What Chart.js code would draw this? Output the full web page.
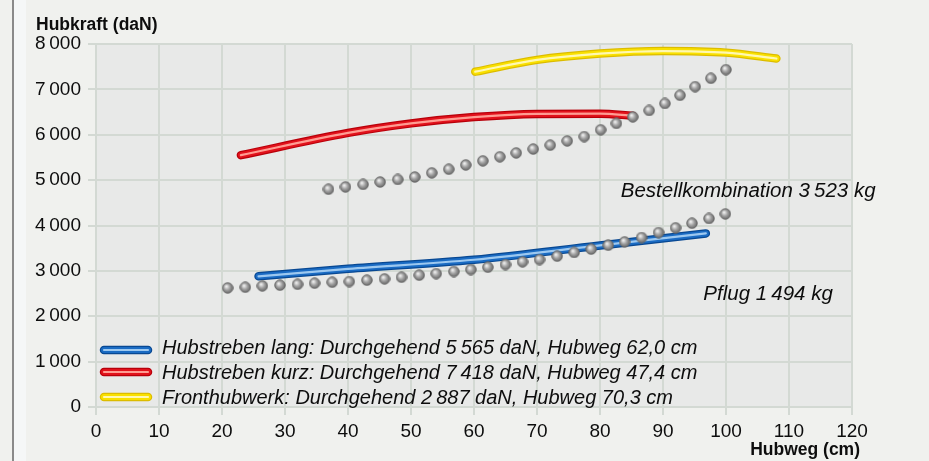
<!DOCTYPE html>
<html>
<head>
<meta charset="utf-8">
<script src="https://cdn.jsdelivr.net/npm/chart.js@4"></script>
<style>
    html, body { margin: 0; padding: 0; background: #f0f1ee; }
    #wrap { width: 929px; height: 461px; position: relative; }
</style>
</head>
<body>
<div id="wrap"><canvas id="hubChart"></canvas></div>
<script>
// ============================================================
//  Hubkraft / Hubweg chart
// ============================================================

// Pflug 1494 kg - gray dots
const pflugX = [20.9, 23.7, 26.4, 29.2, 32.0, 34.7, 37.5, 40.2, 43.0, 45.8, 48.5, 51.3, 54.0, 56.8, 59.5,
                62.2, 65.0, 67.7, 70.4, 73.2, 75.9, 78.6, 81.3, 83.9, 86.6, 89.3, 92.0, 94.6, 97.3, 99.9];
const pflugY = [2625, 2640, 2670, 2685, 2705, 2730, 2750, 2765, 2795, 2825, 2860, 2905, 2940, 2985, 3030,
                3080, 3140, 3200, 3250, 3325, 3405, 3480, 3565, 3640, 3735, 3845, 3950, 4050, 4155, 4255];

// Bestellkombination 3523 kg - gray dots
const bestellX = [36.9, 39.6, 42.4, 45.1, 47.9, 50.6, 53.3, 56.0, 58.7, 61.4, 64.1, 66.7, 69.4,
                  72.1, 74.8, 77.5, 80.1, 82.6, 85.2, 87.8, 90.3, 92.7, 95.1, 97.6, 100.0];
const bestellY = [4800, 4850, 4905, 4960, 5015, 5070, 5160, 5240, 5335, 5425, 5515, 5600, 5685,
                  5770, 5865, 5960, 6110, 6250, 6395, 6535, 6690, 6870, 7060, 7245, 7435];

// Hubstreben lang (blue)
const langX = [25.8, 40, 60, 80, 96.8];
const langY = [2880, 3045, 3245, 3560, 3825];

// Hubstreben kurz (red)
const kurzX = [23, 40, 50, 60, 70, 80, 85.2];
const kurzY = [5550, 6040, 6250, 6390, 6460, 6465, 6420];

// Fronthubwerk (yellow)
const frontX = [60.2, 70, 80, 90, 100, 108];
const frontY = [7390, 7650, 7790, 7845, 7810, 7680];

const legendLabels = [
    'Hubstreben lang: Durchgehend 5\u2009565 daN, Hubweg 62,0 cm',
    'Hubstreben kurz: Durchgehend 7\u2009418 daN, Hubweg 47,4 cm',
    'Fronthubwerk: Durchgehend 2\u2009887 daN, Hubweg 70,3 cm',
];
const noteLabels = ['Bestellkombination 3\u2009523 kg', 'Pflug 1\u2009494 kg'];
const yTitle = 'Hubkraft (daN)';
const xTitle = 'Hubweg (cm)';

// glossy tube colours: [edge, body, highlight]
const BLUE = ['#084892', '#1a6bc3', '#9cc8f0'];
const RED = ['#b8000a', '#e2121c', '#ff9c92'];
const YELLOW = ['#dcbc00', '#f9e000', '#fff8b0'];

const FONT = '"Liberation Sans", Arial, sans-serif';
const INK = '#0d0d0d';

function toPoints(xs, ys) {
    return xs.map((x, i) => ({ x: x, y: ys[i] }));
}

// small shaded sphere used as point style
function makeSphere() {
    const c = document.createElement('canvas');
    c.width = 12; c.height = 12;
    const g = c.getContext('2d');
    const grad = g.createRadialGradient(4.6, 4.4, 0.5, 6, 6, 6.2);
    grad.addColorStop(0, '#eeeeee');
    grad.addColorStop(0.45, '#a0a0a0');
    grad.addColorStop(1, '#585858');
    g.beginPath();
    g.arc(6, 6, 5.3, 0, Math.PI * 2);
    g.fillStyle = grad;
    g.fill();
    g.lineWidth = 0.8;
    g.strokeStyle = '#666666';
    g.stroke();
    return c;
}
const sphere = makeSphere();

function tube(xs, ys, cols) {
    const base = {
        data: toPoints(xs, ys),
        showLine: true,
        pointRadius: 0,
        tension: 0.4,
        cubicInterpolationMode: 'monotone',
        borderCapStyle: 'round',
        borderJoinStyle: 'round',
    };
    return [
        Object.assign({}, base, { borderColor: cols[0], borderWidth: 8.5, order: 4 }),
        Object.assign({}, base, { borderColor: cols[1], borderWidth: 6, order: 3 }),
        Object.assign({}, base, { borderColor: cols[2], borderWidth: 2.2, order: 2 }),
    ];
}

function dots(xs, ys) {
    return {
        data: toPoints(xs, ys),
        showLine: false,
        pointStyle: sphere,
        pointRadius: 5,
        order: 0,
    };
}

function drawTube(ctx, x1, x2, y, cols) {
    ctx.save();
    ctx.lineCap = 'round';
    [[cols[0], 8.5], [cols[1], 6], [cols[2], 2.2]].forEach(([c, w]) => {
        ctx.beginPath();
        ctx.moveTo(x1, y);
        ctx.lineTo(x2, y);
        ctx.strokeStyle = c;
        ctx.lineWidth = w;
        ctx.stroke();
    });
    ctx.restore();
}

const backdrop = {
    id: 'backdrop',
    beforeDraw(chart) {
        const { ctx, chartArea: a } = chart;
        ctx.save();
        ctx.fillStyle = '#f0f1ee';
        ctx.fillRect(0, 0, chart.width, chart.height);
        ctx.fillStyle = '#f5f7f7';
        ctx.fillRect(14, 0, 12, chart.height);
        ctx.fillStyle = '#8a8a8a';
        ctx.fillRect(12, 0, 2, chart.height);
        ctx.fillStyle = '#e8e9e8';
        ctx.fillRect(a.left, a.top, a.right - a.left, a.bottom - a.top);
        ctx.restore();
    }
};

const texts = {
    id: 'texts',
    afterDraw(chart) {
        const { ctx, chartArea: a, scales } = chart;
        ctx.save();
        ctx.fillStyle = INK;
        ctx.textBaseline = 'alphabetic';

        // axis titles
        ctx.font = 'bold 17.5px ' + FONT;
        ctx.textAlign = 'left';
        ctx.fillText(yTitle, 36, 30);
        ctx.textAlign = 'right';
        ctx.fillText(xTitle, 860, 455);

        // legend inside plot
        const cols = [BLUE, RED, YELLOW];
        const baselines = [354, 379, 404];
        const marks = [350, 372, 397];
        ctx.font = 'italic 20px ' + FONT;
        ctx.textAlign = 'left';
        legendLabels.forEach((lbl, i) => {
            drawTube(ctx, a.left + 8, a.left + 52, marks[i], cols[i]);
            ctx.fillStyle = INK;
            ctx.fillText(lbl, 162, baselines[i]);
        });

        // series notes
        ctx.font = 'italic 20.5px ' + FONT;
        ctx.fillText(noteLabels[0], scales.x.getPixelForValue(83.3), scales.y.getPixelForValue(4630));
        ctx.fillText(noteLabels[1], scales.x.getPixelForValue(96.4), scales.y.getPixelForValue(2355));
        ctx.restore();
    }
};

const gridColor = '#d3d9d3';

new Chart(document.getElementById('hubChart'), {
    type: 'scatter',
    data: {
        datasets: [
            dots(pflugX, pflugY),
            dots(bestellX, bestellY),
            ...tube(langX, langY, BLUE),
            ...tube(kurzX, kurzY, RED),
            ...tube(frontX, frontY, YELLOW),
        ]
    },
    options: {
        responsive: true,
        maintainAspectRatio: false,
        animation: false,
        devicePixelRatio: 1,
        layout: { padding: { top: 44, right: 77, bottom: 0, left: 0 } },
        plugins: {
            legend: { display: false },
            tooltip: { enabled: false },
        },
        scales: {
            x: {
                type: 'linear',
                min: 0,
                max: 120,
                ticks: { stepSize: 10, padding: 5, color: INK, font: { size: 19, family: FONT } },
                grid: { color: gridColor, lineWidth: 2, tickLength: 8, tickColor: gridColor },
                border: { color: gridColor, width: 2 },
                afterFit(scale) { scale.height = 54; },
            },
            y: {
                type: 'linear',
                min: 0,
                max: 8000,
                ticks: {
                    stepSize: 1000,
                    padding: 7,
                    color: INK,
                    font: { size: 19, family: FONT },
                    callback: (v) => v >= 1000 ? Math.floor(v / 1000) + '\u2009' + String(v % 1000).padStart(3, '0') : String(v),
                },
                grid: { color: gridColor, lineWidth: 2, tickLength: 8, tickColor: gridColor },
                border: { color: gridColor, width: 2 },
                afterFit(scale) { scale.width = 96; },
            }
        }
    },
    plugins: [backdrop, texts]
});
</script>
</body>
</html>
